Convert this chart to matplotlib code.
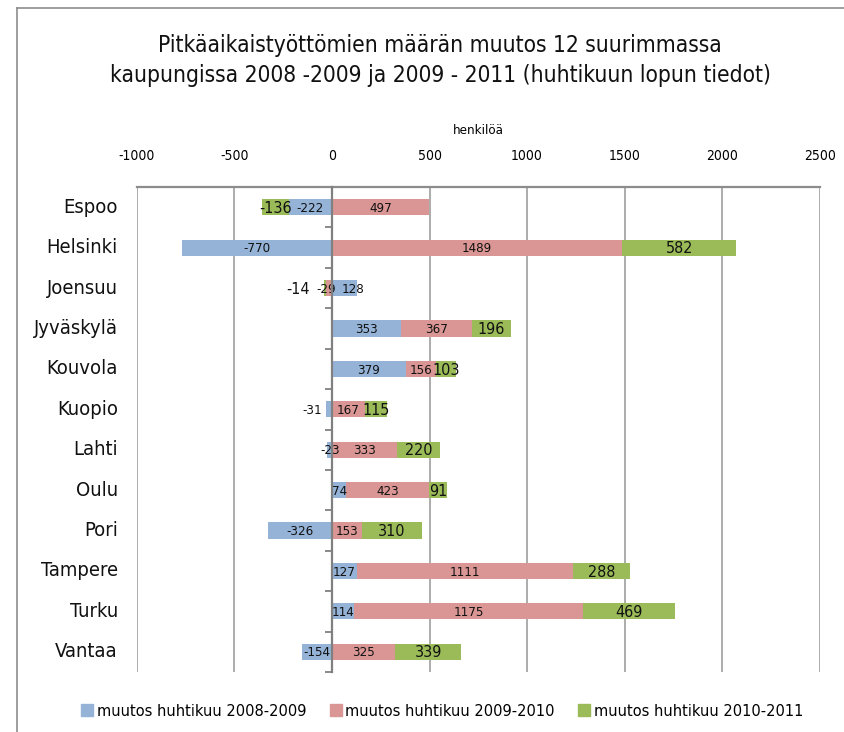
import numpy as np
import matplotlib.pyplot as plt
import matplotlib.transforms as mtransforms
from matplotlib.lines import Line2D

plt.rcParams['font.family'] = ['DejaVu Sans']
plt.rcParams['font.stretch'] = 'condensed'
plt.rcParams['axes.unicode_minus'] = False

# kaupungit ja muutokset (henkilöä)
cities = ["Espoo", "Helsinki", "Joensuu", "Jyväskylä", "Kouvola", "Kuopio",
          "Lahti", "Oulu", "Pori", "Tampere", "Turku", "Vantaa"]
d_2008_2009 = [-222, -770, 128, 353, 379, -31, -23, 74, -326, 127, 114, -154]
d_2009_2010 = [497, 1489, -29, 367, 156, 167, 333, 423, 153, 1111, 1175, 325]
d_2010_2011 = [-136, 582, -14, 196, 103, 115, 220, 91, 310, 288, 469, 339]

series = [d_2008_2009, d_2009_2010, d_2010_2011]
names = ["muutos huhtikuu 2008-2009", "muutos huhtikuu 2009-2010",
         "muutos huhtikuu 2010-2011"]
colors = ["#95B3D7", "#DA9694", "#9BBB59"]
label_sizes = [9.5, 9.5, 11.5]

# pienet arvot: tekstejä siirretään sivuun ettei mene päällekkäin
label_shift = {(0, "Joensuu"): 45, (1, "Joensuu"): -15, (2, "Joensuu"): -140,
               (0, "Kuopio"): -85}

fig = plt.figure(figsize=(8.45, 7.32), dpi=100)
ax = fig.add_axes([0.162, 0.082, 0.808, 0.6625])

y = np.arange(len(cities))
pos_base = np.zeros(len(cities))
neg_base = np.zeros(len(cities))

for k, (vals, name, col, fs) in enumerate(zip(series, names, colors, label_sizes)):
    vals = np.array(vals, dtype=float)
    left = np.where(vals >= 0, pos_base, neg_base)
    ax.barh(y, vals, left=left, height=0.4, color=col, label=name, zorder=3)
    for i, v in enumerate(vals):
        xc = left[i] + v / 2 + label_shift.get((k, cities[i]), 0)
        ax.text(xc, y[i] + 0.03, f"{int(v)}", ha="center", va="center",
                fontsize=fs, color="#111111", zorder=4)
    pos_base += np.where(vals >= 0, vals, 0)
    neg_base += np.where(vals < 0, vals, 0)

ax.set_xlim(-1000, 2500)
ax.set_ylim(len(cities) - 0.5, -0.5)
ax.set_xticks(np.arange(-1000, 2501, 500))
ax.xaxis.tick_top()
ax.xaxis.set_label_position("top")
ax.tick_params(axis="x", length=0, pad=17, labelsize=10)
ax.set_xlabel("henkilöä", fontsize=9.5, labelpad=11)
ax.grid(axis="x", color="#A6A6A6", linewidth=1.3, zorder=0)

# pystyakseli nollakohtaan, väliviivat kaupunkien väliin
ax.spines["left"].set_position(("data", 0))
ax.spines["left"].set_color("#808080")
ax.spines["left"].set_linewidth(1.6)
ax.spines["left"].set_zorder(5)
ax.set_yticks(np.arange(len(cities) + 1) - 0.5)
ax.set_yticklabels([])
ax.tick_params(axis="y", length=5, width=1.3, color="#808080", direction="out")
ax.spines["top"].set_color("#8C8C8C")
ax.spines["top"].set_linewidth(1.6)
ax.spines["right"].set_visible(False)
ax.spines["bottom"].set_visible(False)

trans = mtransforms.blended_transform_factory(ax.transAxes, ax.transData)
for i, c in enumerate(cities):
    ax.text(-0.028, y[i], c, transform=trans, ha="right", va="center",
            fontsize=14.5, color="#111111")

fig.text(0.521, 0.938, "Pitkäaikaistyöttömien määrän muutos 12 suurimmassa",
         ha="center", va="center", fontsize=16.3, color="#111111")
fig.text(0.521, 0.897, "kaupungissa 2008 -2009 ja 2009 - 2011 (huhtikuun lopun tiedot)",
         ha="center", va="center", fontsize=16.3, color="#111111")

handles = [Line2D([], [], marker="s", linestyle="none", markersize=8,
                  markerfacecolor=c, markeredgecolor=c) for c in colors]
fig.legend(handles, names, loc="center", bbox_to_anchor=(0.522, 0.028),
           ncol=3, frameon=False, fontsize=11.7, handletextpad=0.1,
           columnspacing=1.3, handlelength=1.0)

# kehys kuvan ympärillä
fig.add_artist(Line2D([0.02, 0.02], [0.0, 0.989], transform=fig.transFigure,
                      color="#8C8C8C", linewidth=1.2))
fig.add_artist(Line2D([0.02, 1.0], [0.989, 0.989], transform=fig.transFigure,
                      color="#8C8C8C", linewidth=1.2))

fig.savefig("out.png", dpi=100)
plt.close(fig)
